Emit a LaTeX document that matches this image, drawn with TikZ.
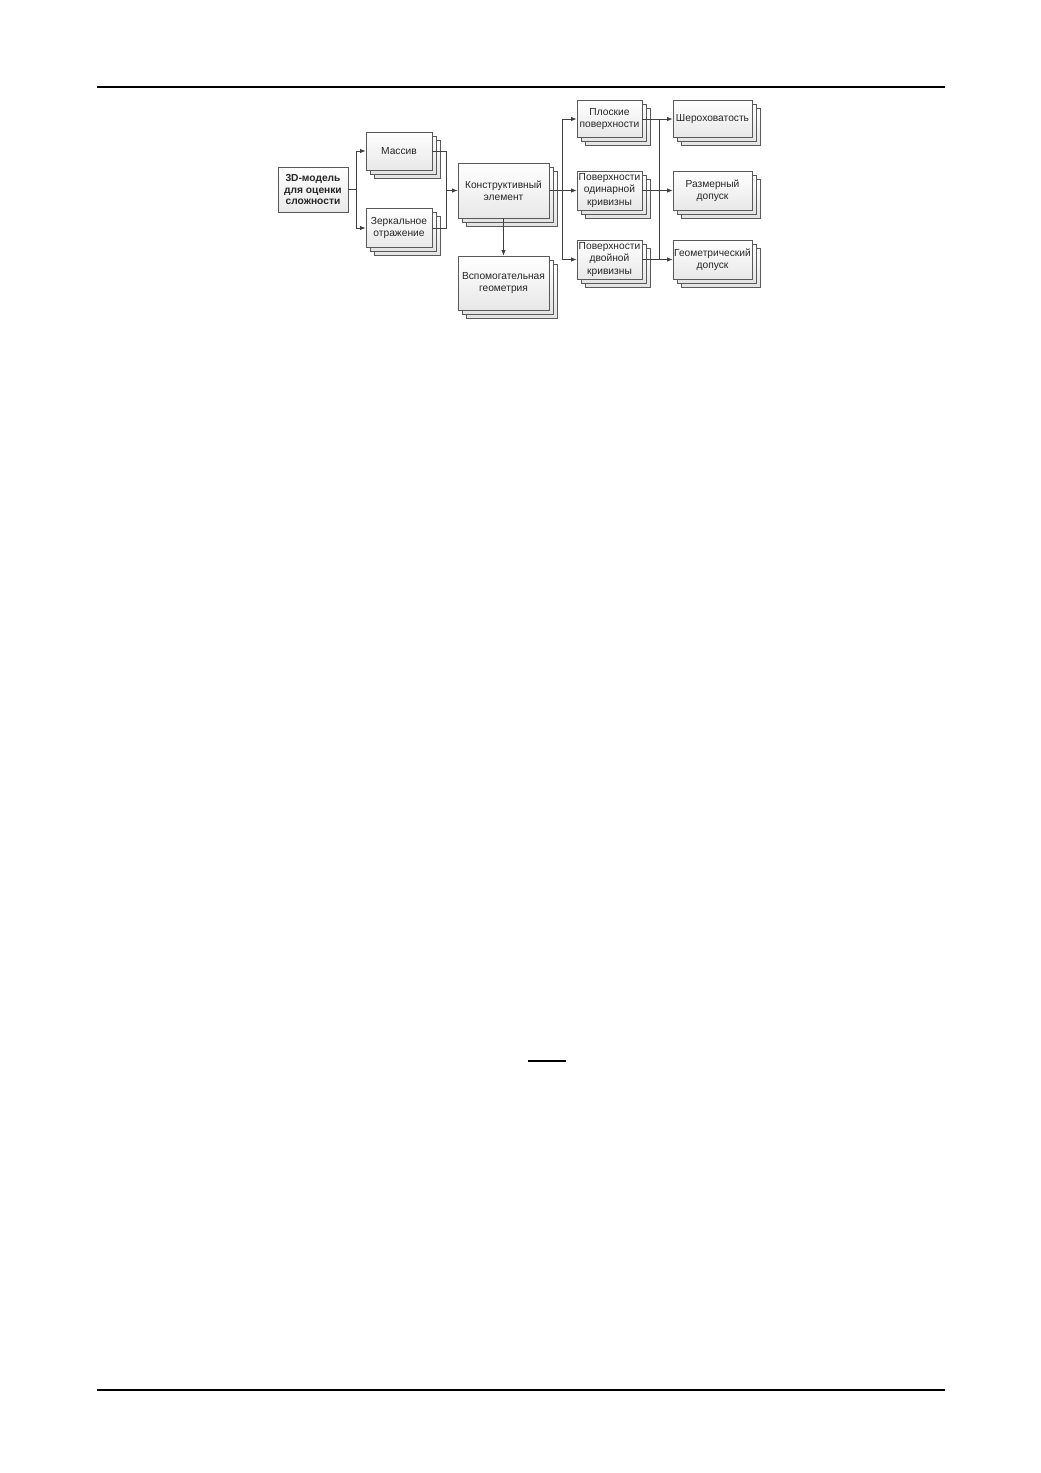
\documentclass[tikz,border=0pt]{standalone}
\usepackage{fontspec}
\setmainfont{Liberation Sans}
\usetikzlibrary{shadows,arrows.meta}
\begin{document}
\begin{tikzpicture}[x=0.5724pt,y=-0.5724pt,
  box/.style={draw=black!65, line width=0.4pt, top color=white, bottom color=black!9,
    align=center, font=\fontsize{5.85}{7.1}\selectfont, inner sep=0.5pt, text=black!85},
  stackbox/.style={box,
    copy shadow={shadow xshift=4.6pt, shadow yshift=-4.6pt, draw=black!65, top color=white, bottom color=black!11},
    copy shadow={shadow xshift=2.3pt, shadow yshift=-2.3pt, draw=black!65, top color=white, bottom color=black!11}},
  conn/.style={draw=black!75, line width=0.5pt},
  arr/.style={conn, -{Latex[length=3.2pt,width=2.6pt]}},
  rule/.style={draw=black, line width=0.75pt}]
\useasboundingbox (0,0) rectangle (1040,1473);
% page rules
\coordinate (t1) at (97,87); \coordinate (t2) at (945,87);
\coordinate (b1) at (97,1390); \coordinate (b2) at (945,1390);
\coordinate (s1) at (528,1061); \coordinate (s2) at (566,1061);
\draw[rule] (t1) -- (t2);
\draw[rule] (b1) -- (b2);
\draw[rule, line width=0.6pt] (s1) -- (s2);
% nodes
\node[box, minimum width=40.1pt, minimum height=25.8pt, font=\fontsize{5.85}{6.4}\selectfont\bfseries,
  drop shadow={shadow xshift=0.8pt, shadow yshift=-0.8pt, opacity=0.5}]
  (m3d) at (313,189.5) {3D-модель\\для оценки\\сложности};
\node[stackbox, minimum width=37.8pt, minimum height=21.8pt] (massiv) at (399,151) {Массив};
\node[stackbox, minimum width=37.8pt, minimum height=22.6pt] (zerk) at (399,228) {Зеркальное\\отражение};
\node[stackbox, minimum width=52.1pt, minimum height=31.5pt] (konstr) at (503.5,190.5) {Конструктивный\\элемент};
\node[stackbox, minimum width=52.1pt, minimum height=30.9pt] (vspom) at (503.5,283) {Вспомогательная\\геометрия};
\node[stackbox, minimum width=37.2pt, minimum height=21.2pt] (plosk) at (609.5,119) {Плоские\\поверхности};
\node[stackbox, minimum width=37.2pt, minimum height=22.3pt] (odin) at (609.5,190.5) {Поверхности\\одинарной\\кривизны};
\node[stackbox, minimum width=37.2pt, minimum height=22.3pt] (dvoin) at (609.5,259.5) {Поверхности\\двойной\\кривизны};
\node[stackbox, minimum width=45.2pt, minimum height=21.2pt] (sher) at (712.5,119) {Шероховатость};
\node[stackbox, minimum width=45.2pt, minimum height=22.3pt] (razm) at (712.5,190.5) {Размерный\\допуск};
\node[stackbox, minimum width=45.2pt, minimum height=22.3pt] (geom) at (712.5,259.5) {Геометрический\\допуск};
% connectors
\coordinate (j1) at (356,189.5);
\draw[conn] (m3d.east) -- (j1);
\draw[arr] (j1) |- (massiv.west);
\draw[arr] (j1) |- (zerk.west);
\coordinate (j2) at (446,190.5);
\draw[conn] (massiv.east) -| (j2);
\draw[conn] (zerk.east) -| (j2);
\draw[arr] (j2) -- (konstr.west);
\draw[arr] (konstr.south) -- (vspom.north);
\coordinate (j3) at (562,190.5);
\draw[conn] (konstr.east) -- (j3);
\draw[arr] (j3) |- (plosk.west);
\draw[arr] (j3) -- (odin.west);
\draw[arr] (j3) |- (dvoin.west);
\coordinate (k1) at (659,119);
\coordinate (k3) at (659,259.5);
\draw[arr] (plosk.east) -- (sher.west);
\draw[arr] (odin.east) -- (razm.west);
\draw[arr] (dvoin.east) -- (geom.west);
\draw[conn] (k1) -- (k3);
\end{tikzpicture}
\end{document}
